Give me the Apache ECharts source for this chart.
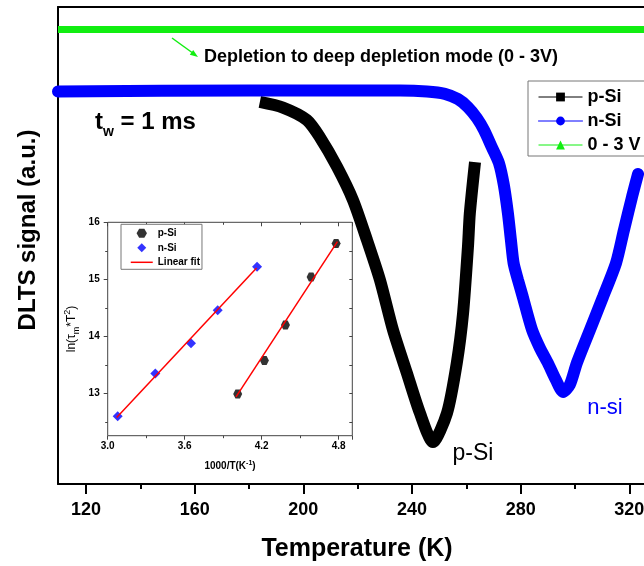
<!DOCTYPE html>
<html>
<head>
<meta charset="utf-8">
<script src="https://cdn.jsdelivr.net/npm/echarts@6/dist/echarts.min.js"></script>
<style>
html, body { margin: 0; padding: 0; background: #fff; }
#chart { width: 644px; height: 566px; }
</style>
</head>
<body>
<div id="chart"></div>
<script>
const FONT = 'Liberation Sans, Arial, sans-serif';

// main DLTS spectra: [temperature (K), signal (a.u.)]
const pSiCurve = [
    [184.0, 80.1], [192.5, 78.9], [201.3, 76.3], [206.1, 72.7], [212.4, 66.5],
    [218.3, 59.5], [223.4, 51.2], [228.2, 42.8], [233.0, 32.3], [238.1, 23.3],
    [242.9, 14.9], [247.7, 8.8], [252.9, 14.9], [256.5, 25.4], [258.8, 35.8],
    [260.6, 49.7], [261.3, 56.8], [263.2, 67.5]
];
const nSiCurve = [
    [109.7, 82.3], [180.4, 82.5], [235.6, 82.5], [245.5, 82.3], [252.1, 81.8],
    [256.9, 80.7], [260.6, 79.0], [263.9, 76.7], [266.5, 74.2], [269.4, 70.6],
    [272.0, 67.3], [273.8, 62.7], [275.3, 56.8], [276.4, 51.2], [277.4, 46.3],
    [279.0, 42.8], [280.8, 39.2], [284.2, 32.3], [287.1, 28.5], [290.0, 25.4],
    [293.0, 21.8], [295.6, 19.3], [298.1, 20.8], [300.7, 25.4], [305.5, 32.3],
    [310.3, 39.2], [315.1, 46.3], [318.0, 53.2], [321.0, 60.2], [323.2, 65.0]
];
const depletionLine = [
    [109.7, 95.3], [160, 95.3], [210, 95.3], [260, 95.3], [310, 95.3], [325.4, 95.3]
];
const tempMajorTicks = [120, 160, 200, 240, 280, 320];
const tempMinorTicks = [140, 180, 220, 260, 300];

// inset: [1000/T, ln(tau_m * T^2)]
const pSiArrhenius = [[4.013, 12.99], [4.221, 13.58], [4.385, 14.20], [4.585, 15.04], [4.780, 15.63]];
const nSiArrhenius = [[3.078, 12.60], [3.371, 13.35], [3.649, 13.88], [3.857, 14.46], [4.164, 15.22]];
const pSiFit = [[4.00, 12.94], [4.79, 15.66]];
const nSiFit = [[3.07, 12.58], [4.16, 15.20]];
const insetYMajor = [13, 14, 15, 16];
const insetYMinor = [12.5, 13.5, 14.5, 15.5];
const insetYAll = [12.5, 13, 13.5, 14, 14.5, 15, 15.5];

const hexagon = 'path://M1,0 L0.5,0.866 L-0.5,0.866 L-1,0 L-0.5,-0.866 L0.5,-0.866 Z';
const diamond = 'path://M0,-1 L1,0 L0,1 L-1,0 Z';

const chart = echarts.init(document.getElementById('chart'), null, { renderer: 'canvas' });

const option = {
    backgroundColor: '#fff',
    animation: false,
    textStyle: { fontFamily: FONT },
    grid: [
        { left: 58, top: 7, right: 0, bottom: 82, containLabel: false, outerBoundsMode: 'none' },
        {
            left: 107.7, top: 222.3, width: 244.6, height: 213.4, containLabel: false, outerBoundsMode: 'none',
            show: true, borderColor: '#444', borderWidth: 1
        }
    ],
    xAxis: [
        {
            gridIndex: 0, type: 'value', position: 'bottom', min: 109.7, max: 325.4,
            axisLine: { lineStyle: { color: '#000', width: 2 } },
            axisTick: { customValues: tempMajorTicks, length: 10, lineStyle: { color: '#000', width: 2 } },
            axisLabel: { customValues: tempMajorTicks, margin: 17, fontSize: 18, fontWeight: 'bold', color: '#000', fontFamily: FONT },
            splitLine: { show: false },
            name: 'Temperature (K)', nameLocation: 'middle', nameGap: 53,
            nameTextStyle: { fontSize: 25, fontWeight: 'bold', color: '#000', fontFamily: FONT, padding: [0, 0, 0, 12] }
        },
        {
            gridIndex: 0, type: 'value', position: 'bottom', min: 109.7, max: 325.4,
            axisLine: { show: false },
            axisTick: { customValues: tempMinorTicks, length: 5, lineStyle: { color: '#000', width: 2 } },
            axisLabel: { show: false },
            splitLine: { show: false }
        },
        {
            gridIndex: 0, type: 'value', position: 'top', min: 109.7, max: 325.4,
            axisLine: { lineStyle: { color: '#000', width: 2 } },
            axisTick: { show: false }, axisLabel: { show: false }, splitLine: { show: false }
        },
        {
            gridIndex: 1, type: 'value', position: 'bottom', min: 3.0, max: 4.906, interval: 0.6,
            axisLine: { show: false },
            axisTick: { length: 4, lineStyle: { color: '#444' } },
            minorTick: { show: true, splitNumber: 2, length: 2.5, lineStyle: { color: '#444' } },
            axisLabel: { margin: 6, fontSize: 10, fontWeight: 'bold', color: '#000', fontFamily: FONT, formatter: v => v.toFixed(1) },
            splitLine: { show: false },
            name: '1000/T(K{sup|-1})', nameLocation: 'middle', nameGap: 24,
            nameTextStyle: {
                fontSize: 10, fontWeight: 'bold', color: '#000', fontFamily: FONT, lineHeight: 14,
                rich: { sup: { fontSize: 7, fontWeight: 'bold', verticalAlign: 'top', lineHeight: 8 } }
            }
        },
        {
            gridIndex: 1, type: 'value', position: 'top', min: 3.0, max: 4.906, interval: 0.6,
            axisLine: { show: false },
            axisTick: { inside: true, length: 4, lineStyle: { color: '#444' } },
            minorTick: { show: true, splitNumber: 2, length: 2.5, lineStyle: { color: '#444' } },
            axisLabel: { show: false }, splitLine: { show: false }
        }
    ],
    yAxis: [
        {
            gridIndex: 0, type: 'value', position: 'left', min: 0, max: 100,
            axisLine: { show: true, lineStyle: { color: '#000', width: 2 } },
            axisTick: { show: false }, axisLabel: { show: false }, splitLine: { show: false }
        },
        {
            gridIndex: 1, type: 'value', position: 'left', min: 12.26, max: 16,
            axisLine: { show: false },
            axisTick: { customValues: insetYMajor, length: 4, lineStyle: { color: '#444' } },
            axisLabel: { customValues: insetYMajor, margin: 8, fontSize: 10, fontWeight: 'bold', color: '#000', fontFamily: FONT },
            splitLine: { show: false },
            name: 'ln(τ{sub|m}*T{sup|2})', nameLocation: 'middle', nameGap: 27,
            nameTextStyle: {
                fontSize: 12, color: '#000', fontFamily: FONT, lineHeight: 18,
                rich: {
                    sub: { fontSize: 9, verticalAlign: 'bottom', lineHeight: 10 },
                    sup: { fontSize: 9, verticalAlign: 'top', lineHeight: 10 }
                }
            }
        },
        {
            gridIndex: 1, type: 'value', position: 'left', min: 12.26, max: 16,
            axisLine: { show: false },
            axisTick: { customValues: insetYMinor, length: 2.5, lineStyle: { color: '#444' } },
            axisLabel: { show: false }, splitLine: { show: false }
        },
        {
            gridIndex: 1, type: 'value', position: 'right', min: 12.26, max: 16,
            axisLine: { show: false },
            axisTick: { customValues: insetYAll, inside: true, length: 3, lineStyle: { color: '#444' } },
            axisLabel: { show: false }, splitLine: { show: false }
        }
    ],
    legend: [
        {
            data: ['p-Si', 'n-Si', '0 - 3 V'],
            orient: 'vertical', left: 528, top: 81,
            itemWidth: 44, itemHeight: 11, itemGap: 6,
            padding: [7, 6, 2, 10],
            borderColor: '#777', borderWidth: 1, backgroundColor: '#fff',
            lineStyle: { width: 1 },
            selectedMode: false,
            textStyle: { fontSize: 18, fontWeight: 'bold', color: '#000', fontFamily: FONT }
        },
        {
            data: [
                { name: 'p-Si ', icon: hexagon },
                { name: 'n-Si ', icon: diamond },
                { name: 'Linear fit', itemStyle: { color: 'rgba(0,0,0,0)' } }
            ],
            orient: 'vertical', left: 121, top: 224.3,
            itemWidth: 22, itemHeight: 9, itemGap: 4.5,
            symbolKeepAspect: true,
            padding: [4, 2, 2, 9],
            borderColor: '#777', borderWidth: 1, backgroundColor: '#fff',
            lineStyle: { width: 1.5 },
            selectedMode: false,
            textStyle: { fontSize: 10, fontWeight: 'bold', color: '#000', fontFamily: FONT }
        }
    ],
    series: [
        {
            name: '0 - 3 V', type: 'line', xAxisIndex: 0, yAxisIndex: 0,
            data: depletionLine, symbol: 'triangle', showSymbol: false,
            itemStyle: { color: '#11ee11' },
            lineStyle: { color: '#11ee11', width: 7 }
        },
        {
            name: 'p-Si', type: 'line', xAxisIndex: 0, yAxisIndex: 0,
            data: pSiCurve, symbol: 'rect', showSymbol: false, smooth: 0.25,
            itemStyle: { color: '#000' },
            lineStyle: { color: '#000', width: 12, cap: 'butt' }
        },
        {
            name: 'n-Si', type: 'line', xAxisIndex: 0, yAxisIndex: 0,
            data: nSiCurve, symbol: 'circle', showSymbol: false, smooth: 0.25,
            itemStyle: { color: '#0000ff' },
            lineStyle: { color: '#0000ff', width: 12, cap: 'round' }
        },
        {
            name: 'Linear fit', type: 'line', xAxisIndex: 3, yAxisIndex: 1,
            data: nSiFit, symbol: 'none',
            itemStyle: { color: '#ff0000' },
            lineStyle: { color: '#ff0000', width: 1.5 }, z: 3
        },
        {
            name: 'Linear fit', type: 'line', xAxisIndex: 3, yAxisIndex: 1,
            data: pSiFit, symbol: 'none',
            itemStyle: { color: '#ff0000' },
            lineStyle: { color: '#ff0000', width: 1.5 }, z: 3
        },
        {
            name: 'p-Si ', type: 'scatter', xAxisIndex: 3, yAxisIndex: 1,
            data: pSiArrhenius, symbol: hexagon, symbolSize: 9,
            itemStyle: { color: '#000' }, z: 2
        },
        {
            name: 'n-Si ', type: 'scatter', xAxisIndex: 3, yAxisIndex: 1,
            data: nSiArrhenius, symbol: diamond, symbolSize: 10,
            itemStyle: { color: '#0000ff' }, z: 2
        }
    ],
    graphic: [
        {
            type: 'text', x: 28, y: 230, rotation: Math.PI / 2,
            style: {
                text: 'DLTS signal (a.u.)', fontSize: 24, fontWeight: 'bold', fontFamily: FONT, fill: '#000',
                align: 'center', verticalAlign: 'middle', textAlign: 'center', textVerticalAlign: 'middle'
            }
        },
        {
            type: 'text', x: 204, y: 57,
            style: {
                text: 'Depletion to deep depletion mode (0 - 3V)', fontSize: 18, fontWeight: 'bold', fontFamily: FONT, fill: '#000',
                align: 'left', verticalAlign: 'middle', textAlign: 'left', textVerticalAlign: 'middle'
            }
        },
        {
            type: 'line', shape: { x1: 172, y1: 38, x2: 192, y2: 52.5 },
            style: { stroke: '#11ee11', lineWidth: 1.5 }
        },
        {
            type: 'polygon', shape: { points: [[198, 57], [189.8, 54.7], [193.2, 49.9]] },
            style: { fill: '#11ee11' }
        },
        {
            type: 'text', x: 95, y: 122,
            style: {
                text: '{a|t}{b|w}{a| = 1 ms}', fontFamily: FONT, fill: '#000',
                verticalAlign: 'middle', textVerticalAlign: 'middle',
                rich: {
                    a: { fontSize: 24, fontWeight: 'bold', lineHeight: 34, fontFamily: FONT },
                    b: { fontSize: 14, fontWeight: 'bold', lineHeight: 14, verticalAlign: 'bottom', fontFamily: FONT }
                }
            }
        },
        {
            type: 'text', x: 473, y: 454,
            style: {
                text: 'p-Si', fontSize: 23, fontFamily: FONT, fill: '#000',
                align: 'center', verticalAlign: 'middle', textAlign: 'center', textVerticalAlign: 'middle'
            }
        },
        {
            type: 'text', x: 605, y: 408,
            style: {
                text: 'n-si', fontSize: 22, fontFamily: FONT, fill: '#0000ff',
                align: 'center', verticalAlign: 'middle', textAlign: 'center', textVerticalAlign: 'middle'
            }
        }
    ]
};

chart.setOption(option);
window.addEventListener('resize', () => chart.resize());
</script>
</body>
</html>
